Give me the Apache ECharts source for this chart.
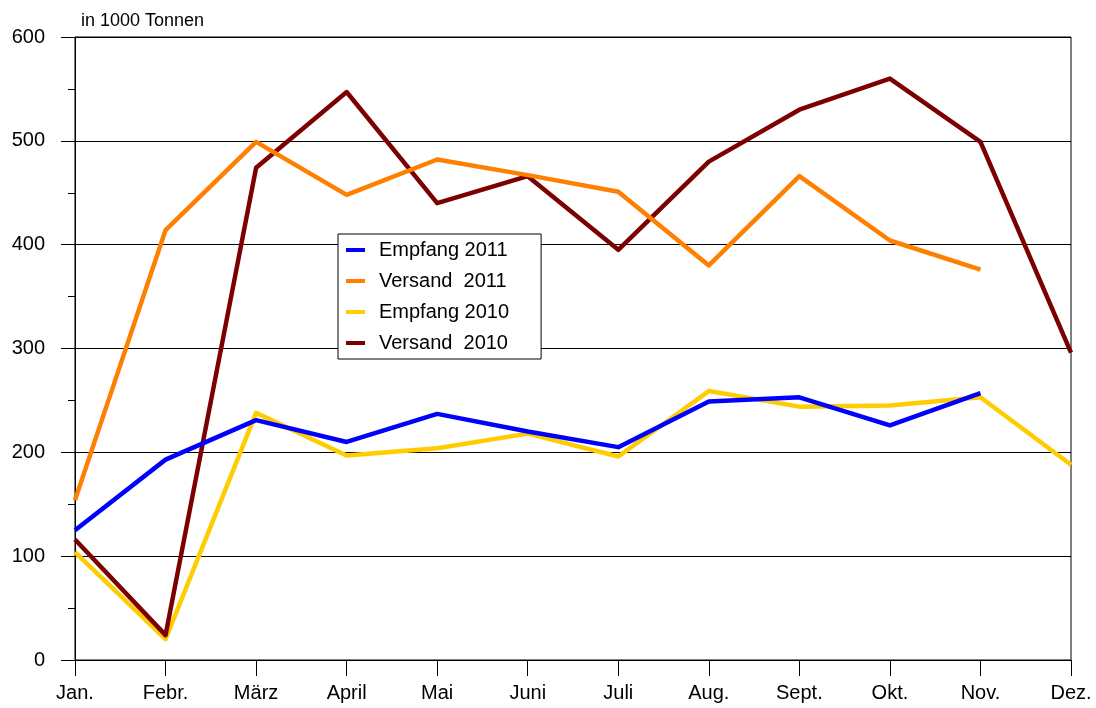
<!DOCTYPE html>
<html>
<head>
<meta charset="utf-8">
<script src="https://cdn.jsdelivr.net/npm/echarts@6/dist/echarts.min.js"></script>
<style>
html,body{margin:0;padding:0;background:#fff;}
#chart{width:1096px;height:708px;}
</style>
</head>
<body>
<div id="chart"></div>
<script>
const categories = ['Jan.', 'Febr.', 'März', 'April', 'Mai', 'Juni', 'Juli', 'Aug.', 'Sept.', 'Okt.', 'Nov.', 'Dez.'];
const empfang2011 = [125, 193, 231, 210, 237, 220, 205, 249, 253, 226, 257, null];
const versand2011 = [154, 414, 499, 448, 482, 467, 451, 380, 466, 404, 376, null];
const empfang2010 = [104, 20, 238, 197, 204, 218, 196, 259, 244, 245, 253, 188];
const versand2010 = [116, 24, 474, 547, 440, 466, 395, 480, 530, 560, 499, 296];
const seriesNames = ['Empfang 2011', 'Versand  2011', 'Empfang 2010', 'Versand  2010'];
const unitLabel = 'in 1000 Tonnen';

const FONT = 'Liberation Sans, Arial, sans-serif';
const chart = echarts.init(document.getElementById('chart'), null, {renderer: 'canvas'});

function lineSeries(name, data, color, z) {
  return {
    name: name, type: 'line', data: data, z: z,
    showSymbol: false, symbol: 'none', connectNulls: false,
    lineStyle: {color: color, width: 4.5, join: 'round'},
    itemStyle: {color: color},
    emphasis: {disabled: true},
    animation: false
  };
}

chart.setOption({
  animation: false,
  backgroundColor: '#fff',
  title: {
    text: unitLabel, left: 76, top: 7,
    textStyle: {fontFamily: FONT, fontSize: 18, fontWeight: 'normal', color: '#000'}
  },
  grid: {left: 75, right: 25, top: 37, bottom: 48, show: true, borderColor: '#000', borderWidth: 1},
  legend: {
    orient: 'vertical', left: 338, top: 234,
    backgroundColor: '#fff', borderColor: '#000', borderWidth: 1,
    padding: [6, 32, 6, 8], itemGap: 11,
    itemWidth: 19, itemHeight: 4, icon: 'rect',
    data: seriesNames,
    textStyle: {fontFamily: FONT, fontSize: 20, color: '#000', padding: [0, 0, 0, 9]},
    z: 10
  },
  xAxis: {
    type: 'category', data: categories, boundaryGap: false,
    axisLine: {lineStyle: {color: '#000', width: 1}},
    axisTick: {show: true, length: 16, inside: false, lineStyle: {color: '#000'}},
    axisLabel: {fontFamily: FONT, fontSize: 20, color: '#000', margin: 23, interval: 0},
    splitLine: {show: false}
  },
  yAxis: {
    type: 'value', min: 0, max: 600, interval: 100,
    axisLine: {show: true, lineStyle: {color: '#000', width: 1}},
    axisTick: {show: true, length: 14, lineStyle: {color: '#000'}},
    minorTick: {show: true, splitNumber: 2, length: 7, lineStyle: {color: '#000'}},
    axisLabel: {fontFamily: FONT, fontSize: 20, color: '#000', margin: 30},
    splitLine: {show: true, lineStyle: {color: '#000', width: 1}}
  },
  series: [
    lineSeries(seriesNames[0], empfang2011, '#0000FF', 4),
    lineSeries(seriesNames[1], versand2011, '#FF7F00', 5),
    lineSeries(seriesNames[2], empfang2010, '#FFCC00', 2),
    lineSeries(seriesNames[3], versand2010, '#7D0000', 3)
  ]
});
</script>
</body>
</html>
